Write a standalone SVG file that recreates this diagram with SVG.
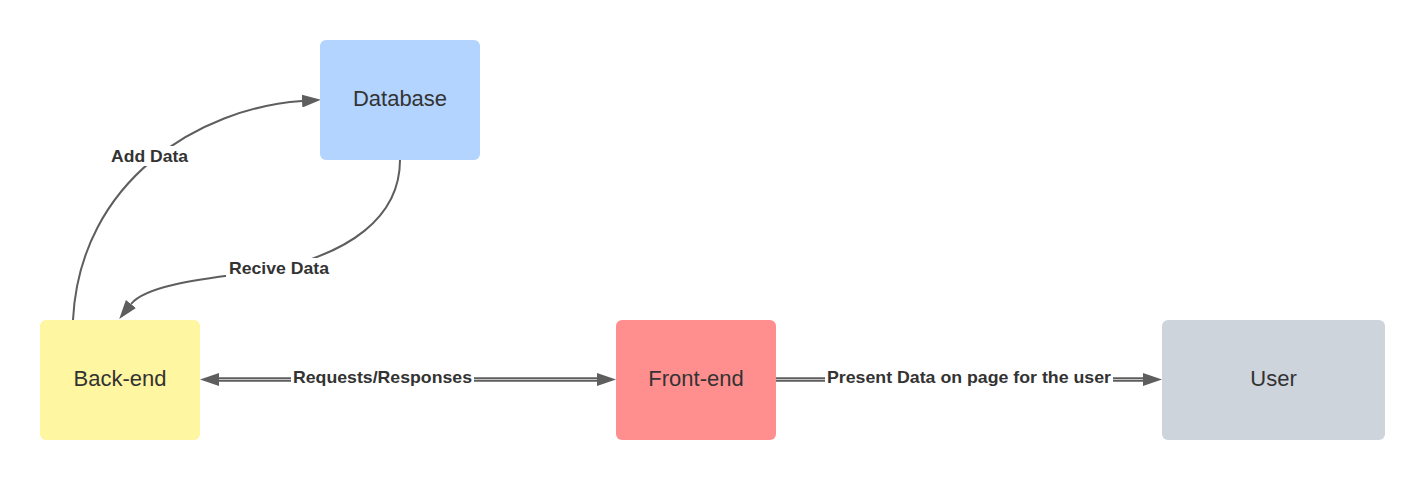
<svg xmlns="http://www.w3.org/2000/svg" width="1426" height="480" viewBox="0 0 1426 480">
<style>
.node text{font-family:"Liberation Sans",Arial,sans-serif;font-size:22px;fill:#333333;text-anchor:middle}
.lbl{font-family:"Liberation Sans",Arial,sans-serif;font-size:17px;font-weight:bold;fill:#333333;text-anchor:middle}
.bg{fill:#ffffff}
.ln{fill:none;stroke:#5e5e5e;stroke-width:2}
.dbl{fill:none;stroke:#5e5e5e;stroke-width:4.5}
.dblc{fill:none;stroke:#c4c4c4;stroke-width:1.2}
</style>
<defs>
<marker id="ah" markerUnits="userSpaceOnUse" markerWidth="19" markerHeight="13" refX="0" refY="6.5" orient="auto-start-reverse" viewBox="0 0 19 13">
<path d="M0,0 L19,6.5 L0,13 Z" fill="#5e5e5e"/>
</marker>
</defs>
<rect width="1426" height="480" fill="#ffffff"/>
<g id="connectors">
<path class="ln" d="M73,320 C80,180 200,108 302,101" marker-end="url(#ah)"/>
<path class="ln" d="M400,160 C400,220 345,253 280,268 C240,276 150,280 131,304" marker-end="url(#ah)"/>
<path class="dbl" d="M219,379.5 L597,379.5" marker-start="url(#ah)" marker-end="url(#ah)"/>
<path class="dblc" d="M219,379.5 L597,379.5"/>
<path class="dbl" d="M776,379.5 L1143,379.5" marker-end="url(#ah)"/>
<path class="dblc" d="M776,379.5 L1143,379.5"/>
<rect class="bg" x="108" y="146" width="83" height="20"/>
<text class="lbl" x="149.5" y="162" textLength="77" lengthAdjust="spacingAndGlyphs">Add Data</text>
<rect class="bg" x="226" y="258" width="106" height="20"/>
<text class="lbl" x="279" y="274" textLength="100" lengthAdjust="spacingAndGlyphs">Recive Data</text>
<rect class="bg" x="291" y="368" width="183" height="20"/>
<text class="lbl" x="382.5" y="383" textLength="179" lengthAdjust="spacingAndGlyphs">Requests/Responses</text>
<rect class="bg" x="825" y="368" width="288" height="20"/>
<text class="lbl" x="969" y="383" textLength="284" lengthAdjust="spacingAndGlyphs">Present Data on page for the user</text>
</g>
<g id="database" class="node">
<rect x="320" y="40" width="160" height="120" rx="6" fill="#b3d4ff"/>
<text x="400" y="106">Database</text>
</g>
<g id="backend" class="node">
<rect x="40" y="320" width="160" height="120" rx="6" fill="#fff6a1"/>
<text x="120" y="386">Back-end</text>
</g>
<g id="frontend" class="node">
<rect x="616" y="320" width="160" height="120" rx="6" fill="#ff8f8f"/>
<text x="696" y="386">Front-end</text>
</g>
<g id="user" class="node">
<rect x="1162" y="320" width="223" height="120" rx="6" fill="#ced4db"/>
<text x="1273.5" y="386">User</text>
</g>
</svg>
